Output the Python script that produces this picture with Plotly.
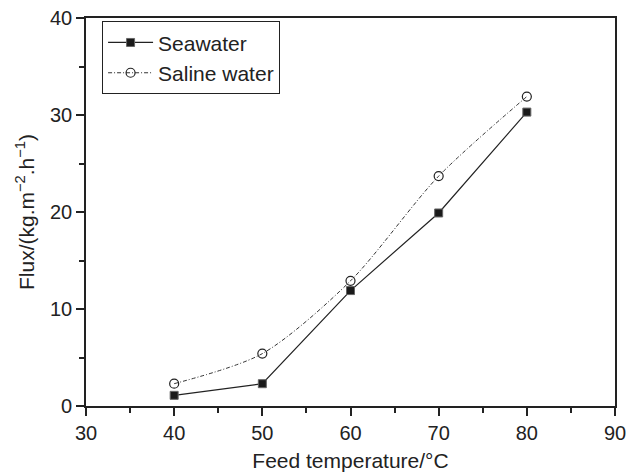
import plotly.graph_objects as go

temps = [40, 50, 60, 70, 80]
seawater = [1.1, 2.3, 11.9, 19.9, 30.3]
saline = [2.3, 5.4, 12.9, 23.7, 31.9]

fig = go.Figure()
fig.add_trace(go.Scatter(
    x=temps, y=seawater, name="Seawater", mode="lines+markers",
    line=dict(color="#222222", width=1.2),
    marker=dict(symbol="square", size=8, color="#1a1a1a", line=dict(color="#666666", width=1))))
fig.add_trace(go.Scatter(
    x=temps, y=saline, name="Saline water", mode="lines+markers",
    line=dict(color="#333333", width=1, dash="4px,2px,1px,2px", shape="spline", smoothing=0.8),
    marker=dict(symbol="circle-open", size=9, color="#222222", line=dict(width=1.2))))

FONT = "Liberation Sans, Arial"
axis_common = dict(
    showline=True, linecolor="#222222", linewidth=1.6, mirror=True,
    ticks="outside", ticklen=8, tickwidth=1.5, tickcolor="#222222",
    showgrid=False, zeroline=False, automargin=False,
    tickfont=dict(family=FONT, size=20, color="#222222"),
)
fig.update_xaxes(range=[30, 90], dtick=10,
                 minor=dict(ticks="outside", dtick=5, ticklen=5, tickwidth=1.5, tickcolor="#222222"),
                 title=dict(text="Feed temperature/°C", font=dict(family=FONT, size=21, color="#222222"), standoff=11),
                 **axis_common)
fig.update_yaxes(range=[0, 40], dtick=10,
                 minor=dict(ticks="outside", dtick=5, ticklen=5, tickwidth=1.5, tickcolor="#222222"),
                 title=dict(text="Flux/(kg.m<sup>−2</sup>.h<sup>−1</sup>)", font=dict(family=FONT, size=21, color="#222222"), standoff=10),
                 **axis_common)
fig.update_layout(
    width=637, height=475,
    margin=dict(l=86, r=22, t=18, b=69),
    plot_bgcolor="white", paper_bgcolor="white",
    legend=dict(x=0.03, y=0.992, xanchor="left", yanchor="top",
                bordercolor="#222222", borderwidth=1.2, bgcolor="white",
                font=dict(family=FONT, size=21, color="#222222"),
                tracegroupgap=0, itemwidth=45),
)
fig.write_html("out.html")
